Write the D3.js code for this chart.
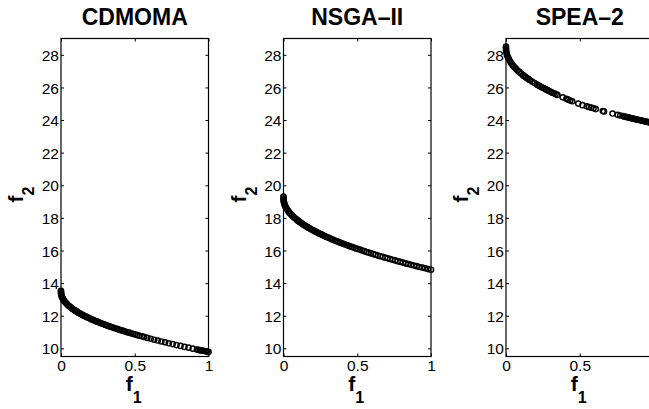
<!DOCTYPE html>
<html><head><meta charset="utf-8">
<script src="https://cdn.jsdelivr.net/npm/d3@7"></script>
<style>body{margin:0;background:#fff}svg{display:block}</style>
</head><body><svg id="c" width="649" height="409"></svg>
<script>
const titles = ["CDMOMA", "NSGA\u2013II", "SPEA\u20132"];
const xTicks = [0, 0.5, 1];
const xTickLabels = ["0", "0.5", "1"];
const yTicks = [10, 12, 14, 16, 18, 20, 22, 24, 26, 28];
const xLabel = ["f", "1"];
const yLabel = ["f", "2"];

const cdmoma = [[0,13.52],[0,13.45],[0.0004,13.38],[0.0016,13.30],[0.0036,13.23],[0.0064,13.16],[0.01,13.08],[0.0144,13.01],[0.0196,12.94],[0.0256,12.86],[0.0324,12.79],[0.04,12.72],[0.0484,12.64],[0.0576,12.57],[0.0676,12.50],[0.0784,12.42],[0.09,12.35],[0.0961,12.31],[0.1024,12.28],[0.1089,12.24],[0.1156,12.20],[0.1225,12.17],[0.1296,12.13],[0.1369,12.09],[0.1444,12.06],[0.1521,12.02],[0.16,11.98],[0.1681,11.95],[0.1764,11.91],[0.1849,11.87],[0.1936,11.84],[0.2025,11.80],[0.2116,11.76],[0.2209,11.73],[0.2304,11.69],[0.2401,11.65],[0.25,11.62],[0.2601,11.58],[0.2704,11.54],[0.2809,11.51],[0.2916,11.47],[0.3025,11.43],[0.3136,11.40],[0.3249,11.36],[0.3364,11.32],[0.3481,11.29],[0.36,11.25],[0.3721,11.21],[0.3844,11.18],[0.3969,11.14],[0.4096,11.10],[0.4225,11.07],[0.4356,11.03],[0.4489,10.99],[0.4624,10.96],[0.4761,10.92],[0.49,10.88],[0.5041,10.85],[0.5184,10.81],[0.5329,10.77],[0.5476,10.74],[0.5625,10.70],[0.5852,10.64],[0.6084,10.59],[0.632,10.53],[0.6561,10.48],[0.6806,10.42],[0.7056,10.37],[0.731,10.31],[0.7569,10.26],[0.7832,10.20],[0.81,10.15],[0.8372,10.09],[0.8649,10.04],[0.893,9.98],[0.9216,9.93],[0.9312,9.91],[0.9409,9.89],[0.9506,9.87],[0.9604,9.86],[0.9702,9.84],[0.9801,9.82],[0.99,9.80],[1,9.78]];

const nsga2 = [[0,19.30],[0,19.20],[0.0004,19.11],[0.0016,19.02],[0.0036,18.94],[0.0064,18.85],[0.01,18.76],[0.0144,18.67],[0.0196,18.59],[0.0256,18.50],[0.0324,18.41],[0.04,18.32],[0.0484,18.24],[0.0576,18.15],[0.0676,18.06],[0.0784,17.97],[0.09,17.89],[0.0961,17.84],[0.1024,17.80],[0.1089,17.75],[0.1156,17.71],[0.1225,17.67],[0.1296,17.62],[0.1369,17.58],[0.1444,17.53],[0.1521,17.49],[0.16,17.45],[0.1681,17.40],[0.1764,17.36],[0.1849,17.32],[0.1936,17.27],[0.2025,17.23],[0.2116,17.18],[0.2209,17.14],[0.2304,17.10],[0.2401,17.05],[0.25,17.01],[0.2601,16.97],[0.2704,16.92],[0.2809,16.88],[0.2916,16.83],[0.3025,16.79],[0.3136,16.75],[0.3249,16.70],[0.3364,16.66],[0.3481,16.61],[0.36,16.57],[0.3721,16.53],[0.3844,16.48],[0.3969,16.44],[0.4096,16.40],[0.4225,16.35],[0.4356,16.31],[0.4489,16.26],[0.4624,16.22],[0.4761,16.18],[0.49,16.13],[0.5041,16.09],[0.5184,16.05],[0.5329,16.00],[0.5476,15.96],[0.5625,15.91],[0.5776,15.87],[0.5929,15.83],[0.6084,15.78],[0.6241,15.74],[0.64,15.69],[0.6561,15.65],[0.6724,15.61],[0.6889,15.56],[0.7056,15.52],[0.7225,15.48],[0.7396,15.43],[0.7569,15.39],[0.7744,15.34],[0.7921,15.30],[0.81,15.26],[0.8281,15.21],[0.8464,15.17],[0.8649,15.12],[0.8836,15.08],[0.9025,15.04],[0.9216,14.99],[0.9409,14.95],[0.9604,14.91],[0.9801,14.86],[1,14.82]];

const spea2 = [[0,28.50],[0,28.40],[0.0004,28.30],[0.0016,28.21],[0.0036,28.11],[0.0064,28.01],[0.01,27.92],[0.0144,27.82],[0.0196,27.72],[0.0256,27.62],[0.0324,27.53],[0.04,27.43],[0.0484,27.33],[0.0576,27.24],[0.0676,27.14],[0.0784,27.04],[0.09,26.95],[0.1024,26.85],[0.1156,26.75],[0.1225,26.70],[0.1296,26.65],[0.1369,26.61],[0.1444,26.56],[0.1521,26.51],[0.16,26.46],[0.1764,26.36],[0.1936,26.27],[0.2116,26.17],[0.2209,26.12],[0.2304,26.07],[0.2401,26.02],[0.25,25.98],[0.2601,25.93],[0.2704,25.88],[0.2809,25.83],[0.2916,25.78],[0.3025,25.73],[0.3136,25.68],[0.3249,25.64],[0.3364,25.59],[0.3481,25.54],[0.3844,25.39],[0.4096,25.30],[0.4225,25.25],[0.4356,25.20],[0.4489,25.15],[0.49,25.01],[0.5184,24.91],[0.5476,24.84],[0.5625,24.80],[0.5776,24.76],[0.5929,24.72],[0.6084,24.67],[0.6561,24.55],[0.6642,24.53],[0.7225,24.40],[0.7569,24.32],[0.7744,24.28],[0.7921,24.24],[0.801,24.22],[0.81,24.20],[0.819,24.18],[0.8281,24.16],[0.8372,24.14],[0.8464,24.12],[0.8556,24.10],[0.8649,24.08],[0.8742,24.06],[0.8836,24.04],[0.893,24.02],[0.9025,24.00],[0.912,23.98],[0.9216,23.96],[0.9312,23.94],[0.9409,23.92],[0.9506,23.90],[0.9604,23.88],[0.9702,23.86],[0.9801,23.84],[1,23.80]];

const series = [cdmoma, nsga2, spea2];

const svg = d3.select("#c");
const font = "'Liberation Sans', Arial, Helvetica, sans-serif";
const panelLeft = [61, 283.5, 506];
const pw = 147.5, pTop = 38.5, pBottom = 356.5;
const ph = pBottom - pTop;

const x = d3.scaleLinear().domain([0, 1]).range([0, pw]);
const y = d3.scaleLinear().domain([9.5, 29]).range([ph, 0]);

series.forEach((data, i) => {
  const g = svg.append("g").attr("transform", `translate(${panelLeft[i]},${pTop})`);

  const axB = d3.axisBottom(x).tickValues(xTicks).tickFormat((d, k) => xTickLabels[k]).tickSizeInner(-3).tickSizeOuter(0).tickPadding(4);
  const axT = d3.axisTop(x).tickValues(xTicks).tickFormat("").tickSizeInner(-3).tickSizeOuter(0);
  const axL = d3.axisLeft(y).tickValues(yTicks).tickSizeInner(-3).tickSizeOuter(0).tickPadding(2);
  const axR = d3.axisRight(y).tickValues(yTicks).tickFormat("").tickSizeInner(-3).tickSizeOuter(0);

  const gb = g.append("g").attr("transform", `translate(0,${ph})`).call(axB);
  const gt = g.append("g").call(axT);
  const gl = g.append("g").call(axL);
  const gr = g.append("g").attr("transform", `translate(${pw},0)`).call(axR);
  [gb, gt, gl, gr].forEach(a => {
    a.select(".domain").remove();
    a.selectAll("line").attr("stroke", "#000").attr("stroke-width", 1);
    a.selectAll("text").attr("font-family", font).attr("font-size", 15.5).attr("fill", "#000");
  });
  gl.selectAll("text").attr("dy", "0.36em");
  gb.selectAll("text").attr("dy", "0.7em");

  g.append("rect").attr("x", 0).attr("y", 0).attr("width", pw).attr("height", ph)
    .attr("fill", "none").attr("stroke", "#000").attr("stroke-width", 1.2);

  g.append("g").selectAll("circle").data(data).join("circle")
    .attr("cx", d => x(d[0])).attr("cy", d => y(d[1])).attr("r", 2.6)
    .attr("fill", "none").attr("stroke", "#000").attr("stroke-width", 1.45);

  svg.append("text").attr("x", panelLeft[i] + pw / 2).attr("y", 25)
    .attr("text-anchor", "middle").attr("font-family", font).attr("font-weight", "bold")
    .attr("font-size", 23).text(titles[i]);

  const xl = svg.append("text").attr("x", panelLeft[i] + pw / 2 - 1).attr("y", 391)
    .attr("text-anchor", "middle").attr("font-family", font).attr("font-weight", "bold");
  xl.append("tspan").attr("font-size", 21).text(xLabel[0]);
  xl.append("tspan").attr("font-size", 16).attr("dy", 12).text(xLabel[1]);

  const yl = svg.append("text").attr("transform", `translate(${panelLeft[i] - 38},${pTop + ph / 2 - 3}) rotate(-90)`)
    .attr("text-anchor", "middle").attr("font-family", font).attr("font-weight", "bold");
  yl.append("tspan").attr("font-size", 21).text(yLabel[0]);
  yl.append("tspan").attr("font-size", 16).attr("dy", 11).text(yLabel[1]);
});
</script></body></html>
